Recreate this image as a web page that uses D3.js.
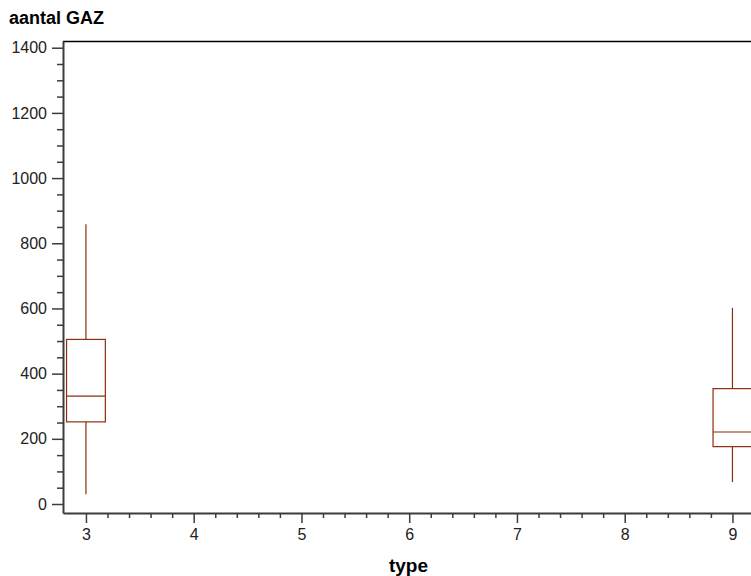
<!DOCTYPE html>
<html>
<head>
<meta http-equiv="Content-Type" content="text/html; charset=UTF-8">
<script src="https://d3js.org/d3.v7.min.js"></script>
<style>
  body { margin: 0; background: #fff; }
  text { font-family: "Liberation Sans", Arial, sans-serif; }
</style>
</head>
<body>
<div id="my_dataviz"></div>
<script>
// box plot values per type
var types = [3, 9];
var lowWhisker = [30, 67];
var q1 = [252, 176];
var median = [331, 221];
var q3 = [505, 354];
var highWhisker = [858, 602];

var xTicks = [3, 4, 5, 6, 7, 8, 9];
var yTicks = [0, 200, 400, 600, 800, 1000, 1200, 1400];

var boxColor = "#8b2f0c";
var axisColor = "#3c3c3c";

var width = 751, height = 576;

var svg = d3.select("#my_dataviz")
  .append("svg")
    .attr("width", width)
    .attr("height", height);

// plot area runs off the right edge, like the original
var x = d3.scaleLinear().domain([2.787, 9.2]).range([63, 754]);
var y = d3.scaleLinear().domain([-27.6, 1420.6]).range([513, 41]);

// title
svg.append("text")
  .attr("x", 9)
  .attr("y", 24)
  .attr("font-size", "18px")
  .attr("font-weight", "bold")
  .text("aantal GAZ");

// top border
svg.append("line")
  .attr("x1", 63).attr("x2", 760)
  .attr("y1", 41.5).attr("y2", 41.5)
  .attr("stroke", "#000").attr("stroke-width", 1.5);

// y axis
var yMinor = d3.range(0, 1401, 50).filter(function(d) { return d % 200 != 0; });
var yAxis = svg.append("g").attr("transform", "translate(63,0)");
yAxis.call(d3.axisLeft(y).tickValues(yTicks).tickFormat(d3.format("d")).tickSize(11).tickPadding(5).tickSizeOuter(0));
yAxis.selectAll(".minor").data(yMinor).enter()
  .append("line").attr("class", "minor")
  .attr("x1", -6).attr("x2", 0)
  .attr("y1", function(d) { return y(d) + 0.5; })
  .attr("y2", function(d) { return y(d) + 0.5; });

// x axis
var xMinor = d3.range(3, 9.21, 0.2).filter(function(d) { return Math.abs(d - Math.round(d)) > 0.05; });
var xAxis = svg.append("g").attr("transform", "translate(0,513)");
xAxis.call(d3.axisBottom(x).tickValues(xTicks).tickFormat(d3.format("d")).tickSize(10).tickPadding(6).tickSizeOuter(0));
xAxis.selectAll(".minor").data(xMinor).enter()
  .append("line").attr("class", "minor")
  .attr("y1", 0).attr("y2", 5)
  .attr("x1", function(d) { return x(d) + 0.5; })
  .attr("x2", function(d) { return x(d) + 0.5; });

svg.selectAll(".domain").attr("stroke", axisColor).attr("stroke-width", 2);
svg.selectAll(".tick line, .minor").attr("stroke", axisColor).attr("stroke-width", 1.5);
svg.selectAll(".tick text").attr("font-size", "16px").attr("fill", "#222")
  .attr("font-family", "'Liberation Sans', Arial, sans-serif");

// x axis label
svg.append("text")
  .attr("x", (63 + 754) / 2)
  .attr("y", 572)
  .attr("text-anchor", "middle")
  .attr("font-size", "19px")
  .attr("font-weight", "bold")
  .text("type");

// boxes
var boxes = types.map(function(t, i) {
  return { type: t, lo: lowWhisker[i], q1: q1[i], med: median[i], q3: q3[i], hi: highWhisker[i] };
});
var halfW = 0.18;

var g = svg.append("g");
g.selectAll(".whisker").data(boxes).enter()
  .append("line")
  .attr("x1", function(d) { return x(d.type); })
  .attr("x2", function(d) { return x(d.type); })
  .attr("y1", function(d) { return y(d.lo); })
  .attr("y2", function(d) { return y(d.hi); })
  .attr("stroke", boxColor).attr("stroke-width", 1.2);

g.selectAll(".box").data(boxes).enter()
  .append("rect")
  .attr("x", function(d) { return x(d.type - halfW); })
  .attr("y", function(d) { return y(d.q3); })
  .attr("width", function(d) { return x(d.type + halfW) - x(d.type - halfW); })
  .attr("height", function(d) { return y(d.q1) - y(d.q3); })
  .attr("fill", "#fff")
  .attr("stroke", boxColor).attr("stroke-width", 1.2);

g.selectAll(".med").data(boxes).enter()
  .append("line")
  .attr("x1", function(d) { return x(d.type - halfW); })
  .attr("x2", function(d) { return x(d.type + halfW); })
  .attr("y1", function(d) { return y(d.med); })
  .attr("y2", function(d) { return y(d.med); })
  .attr("stroke", boxColor).attr("stroke-width", 1.2);
</script>
</body></html>
